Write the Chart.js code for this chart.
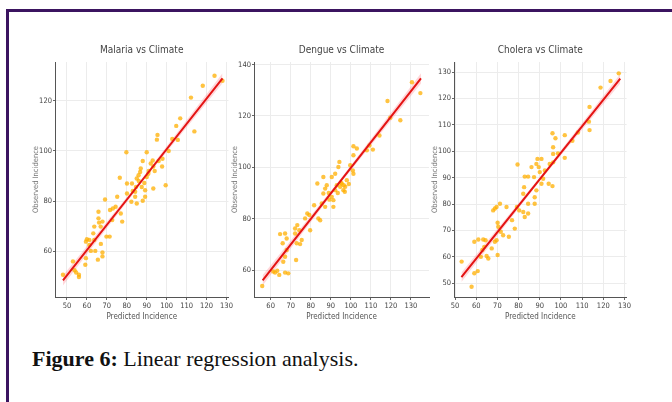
<!DOCTYPE html>
<html>
<head>
<meta charset="utf-8">
<script src="https://cdn.jsdelivr.net/npm/chart.js@4.4.1/dist/chart.umd.min.js"></script>
<style>
  html, body { margin: 0; overflow: hidden; }
  body { width: 672px; height: 402px; background: #fff; position: relative; }
  .bar { position: absolute; background: #3b1460; }
  .panel { position: absolute; top: 40px; height: 285px; }
  .caption { position: absolute; left: 32px; top: 346px; font-family: 'Liberation Serif', serif;
             font-size: 22px; color: #111; white-space: nowrap; }
</style>
</head>
<body>
<div class="bar" style="left:6px;top:9px;width:666px;height:2.5px"></div>
<div class="bar" style="left:6px;top:9px;width:2.5px;height:393px"></div>
<div class="panel" style="left:30px;width:205px"><canvas id="malaria"></canvas></div>
<div class="panel" style="left:229px;width:205px"><canvas id="dengue"></canvas></div>
<div class="panel" style="left:429px;width:204px"><canvas id="cholera"></canvas></div>
<div class="caption"><b>Figure 6:</b> Linear regression analysis.</div>
<script>
// Malaria
const malariaPredicted = [124,128,118.1,112.2,113.9,106.8,104.8,105.6,102.8,99.5,97.9,95.4,95.1,97.7,93.3,93,90,90.8,93.3,90,88.8,89.2,89.2,88,85,84.2,79.8,80.1,80.1,82.6,82.3,84.6,85,85.9,86.7,87.5,84.2,76.5,75.2,77,74.4,73,72.7,71.6,77.7,69.1,69.8,71.4,65.8,65.8,66.1,66.9,67.8,63.7,63.2,63.7,61.2,59.5,60,61.2,62,64.2,67.8,65.5,67,67.8,59.5,59.2,53,54.6,56,56,48,53.8,86,87,91,92,83,88,96,101,94];
const malariaObserved  = [130,128,126,121.3,107.8,113,110,104.4,104.8,86.3,96.9,106.4,104.5,93.8,93.8,96.2,99.5,90.9,85,89.6,87.2,84.3,81.7,80.1,79,81.7,99.5,87,83,87,79.7,85.6,89,90.3,91.6,85.6,83.7,89.3,81.7,75,77.7,77,72.4,76.4,71.8,80.6,65.8,65.8,75.7,73.1,71.4,69.8,71.8,69.8,67.1,64.5,64.5,63.8,64.8,62.5,60.1,60.1,59.5,56.6,62.9,57.9,57.2,54.6,55.9,51.5,50.6,49.7,50.6,52.4,88,93,92,95,84,96,96,100,92];
const malariaFitX = [48, 88, 128];
const malariaFitY = [48.3, 88.6, 129];
const malariaBandLo = [46.3, 87.8, 127];
const malariaBandHi = [50.3, 89.4, 131];

// Dengue
const denguePredicted = [130.5,134.7,118.3,124.7,119.7,114.3,111,108,109.3,101.3,103,101.3,101,101.3,99.7,94.3,93.8,92.2,90.5,95.5,93,94.7,97.2,98,96.3,92.2,88,87.2,86.3,83.3,86.3,90.5,91.3,89.3,91.3,87.2,85.5,81.7,83.8,84.7,78.3,79.3,77.2,79.7,73.3,72.2,72.2,74.3,73,74.7,75.5,72.7,67.2,64.7,68,66,68,67.2,66.3,68.8,67.2,63.3,62.2,64.3,61.3,55.8,95,96.5,93.5,97,99,89];
const dengueObserved  = [133.1,128.9,125.8,118.3,119.3,112.4,106.9,106.6,108.5,108.2,107.3,104.7,98.8,97.5,100.8,102.1,100.1,97.5,96.2,93.7,93,92.4,92.4,95,91.1,91.1,93,91.7,96.2,93.7,89.8,88.5,87.2,87.4,84.6,84.6,85.9,85.2,80.1,79.4,82,81.4,80.1,75.5,77.5,76.2,74.2,75.5,70.4,70.1,71.7,63.9,74.2,74,72.3,70.4,67.8,65.2,63.2,58.7,59,59.7,59,58.1,59.4,53.8,94,93,90,90.5,93.5,90];
const dengueFitX = [56, 95.5, 135];
const dengueFitY = [56, 95.3, 134.6];
const dengueBandLo = [54, 94.5, 132.6];
const dengueBandHi = [58, 96.1, 136.6];

// Cholera
const choleraPredicted = [127.3,123.4,118.7,113.5,113.2,113.5,108,105.4,101.8,101.8,98.6,96,97.4,96.3,96.3,96.3,94.7,96,94.2,92.4,90.8,89.5,90,88.9,88.4,87.3,86.1,88.4,90.8,91.6,82.9,84.5,82.6,82.2,84.5,87.6,87.6,79.5,79.2,80.3,82.2,84.5,82.9,78.2,76.9,74.3,75.4,71.2,69.6,68.8,68,70.1,70.4,71.6,72.7,69.6,68.8,70.1,67.3,64.9,65.7,63.3,64.4,61,59.1,62.2,63.8,62.9,53.1,59.1,60.7,57.8];
const choleraObserved  = [129.5,126.6,124.1,116.8,111.2,108,107.1,104,106.1,97.5,99.2,106.8,104.9,101.5,99,95.8,95.2,86.8,87.7,92.7,97.1,94,92.1,97.1,95.2,90.2,94,85.2,87.7,89.6,90.4,90.4,86.4,83.9,80.1,82.6,80.1,95,78.9,77.6,77,76.4,75.1,70.7,73.9,78.9,67.6,80.1,78.9,78.3,77.6,72.9,71.4,69.5,68.2,66.3,65.7,60.7,63.2,60.3,59.4,66.6,66.3,66.6,65.7,60,63.8,62.6,58.2,53.8,54.6,48.7];
const choleraFitX = [53, 90.5, 128];
const choleraFitY = [52.3, 89.9, 127.5];
const choleraBandLo = [50.5, 89.2, 125.7];
const choleraBandHi = [54.1, 90.6, 129.3];

const malariaXTicks = [50, 60, 70, 80, 90, 100, 110, 120, 130];
const malariaYTicks = [60, 80, 100, 120];
const dengueXTicks = [60, 70, 80, 90, 100, 110, 120, 130];
const dengueYTicks = [60, 80, 100, 120, 140];
const choleraXTicks = [50, 60, 70, 80, 90, 100, 110, 120, 130];
const choleraYTicks = [50, 60, 70, 80, 90, 100, 110, 120, 130];

const tickFont = { family: "'DejaVu Sans Condensed', 'Liberation Sans Narrow', sans-serif", size: 7.5 };

function pts(xs, ys) {
   return xs.map((x, i) => ({ x: x, y: ys[i] }));
}

function makePanel(id, title, xs, ys, fitX, fitY, bandLo, bandHi, xRange, yRange, xTicks, yTicks) {
   new Chart(document.getElementById(id), {
      type: 'scatter',
      data: {
         datasets: [
            {
               data: pts(fitX, fitY),
               showLine: true,
               borderColor: 'rgb(228, 20, 20)',
               borderWidth: 2,
               pointRadius: 0,
               order: 0,
            },
            {
               data: pts(xs, ys),
               backgroundColor: 'rgba(255, 175, 0, 0.75)',
               borderWidth: 0,
               pointRadius: 2.2,
               order: 1,
            },
            {
               data: pts(fitX, bandHi),
               showLine: true,
               borderWidth: 0,
               pointRadius: 0,
               backgroundColor: 'rgba(255, 140, 150, 0.35)',
               fill: '+1',
               order: 2,
            },
            {
               data: pts(fitX, bandLo),
               showLine: true,
               borderWidth: 0,
               pointRadius: 0,
               order: 3,
            },
         ],
      },
      options: {
         responsive: true,
         maintainAspectRatio: false,
         animation: false,
         layout: { padding: { left: 0, right: 5, top: 0, bottom: 0 } },
         plugins: {
            legend: { display: false },
            tooltip: { enabled: false },
            title: {
               display: true,
               text: title,
               fullSize: false,
               color: '#444',
               font: { family: tickFont.family, size: 10, weight: 'normal' },
               padding: { top: 4, bottom: 6 },
            },
         },
         scales: {
            x: {
               type: 'linear',
               min: xRange[0],
               max: xRange[1],
               afterBuildTicks: (s) => { s.ticks = xTicks.map(v => ({ value: v })); },
               afterFit: (s) => { s.height = 28; },
               grid: { color: '#ececec', tickColor: '#666', tickLength: 3 },
               border: { display: true, color: '#555', width: 1 },
               ticks: { color: '#444', font: tickFont, padding: 2, maxRotation: 0 },
               title: { display: true, text: 'Predicted Incidence', color: '#555',
                        font: { family: tickFont.family, size: 8 }, padding: { top: 0, bottom: 3 } },
            },
            y: {
               type: 'linear',
               min: yRange[0],
               max: yRange[1],
               afterBuildTicks: (s) => { s.ticks = yTicks.map(v => ({ value: v })); },
               afterFit: (s) => { s.width = 25; },
               grid: { color: '#ececec', tickColor: '#666', tickLength: 2 },
               border: { display: true, color: '#555', width: 1 },
               ticks: { color: '#444', font: tickFont, padding: 1 },
               title: { display: true, text: 'Observed Incidence', color: '#777',
                        font: { family: tickFont.family, size: 7.5 }, padding: { top: 2, bottom: 0 } },
            },
         },
      },
   });
}

makePanel('malaria', 'Malaria vs Climate', malariaPredicted, malariaObserved,
   malariaFitX, malariaFitY, malariaBandLo, malariaBandHi, [44, 131], [41.7, 135.5], malariaXTicks, malariaYTicks);
makePanel('dengue', 'Dengue vs Climate', denguePredicted, dengueObserved,
   dengueFitX, dengueFitY, dengueBandLo, dengueBandHi, [51.7, 139], [49.5, 141], dengueXTicks, dengueYTicks);
makePanel('cholera', 'Cholera vs Climate', choleraPredicted, choleraObserved,
   choleraFitX, choleraFitY, choleraBandLo, choleraBandHi, [49.5, 131], [44.8, 133.8], choleraXTicks, choleraYTicks);
</script>
</body>
</html>
